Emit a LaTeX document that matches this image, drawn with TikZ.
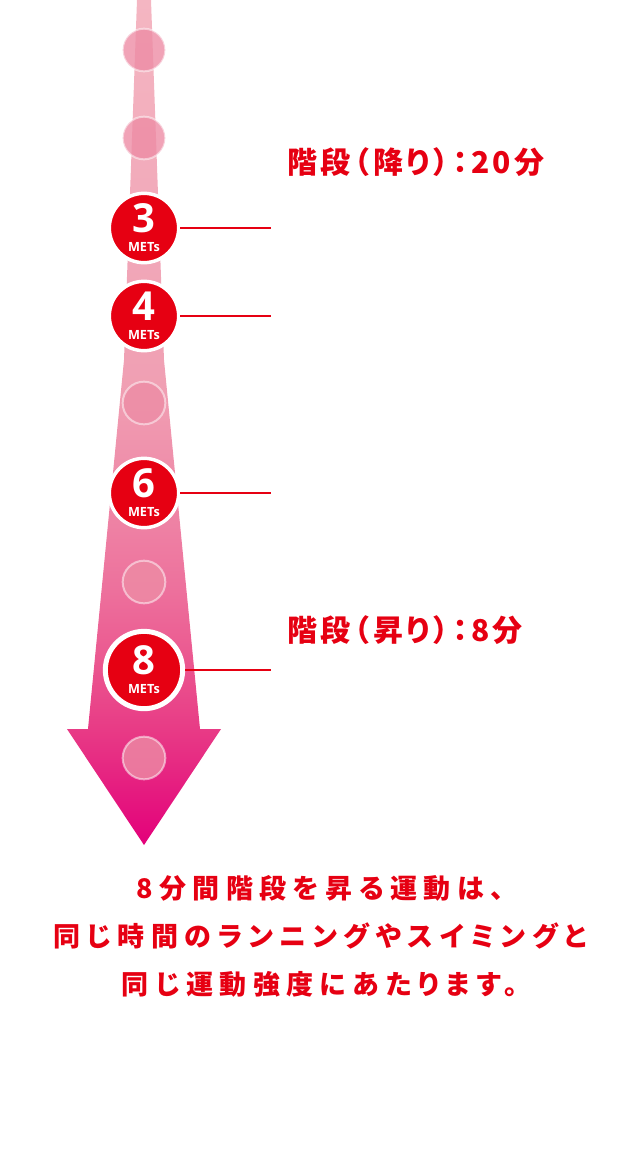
\documentclass[tikz,border=0pt]{standalone}
\usepackage{fontspec}
\setmainfont{Open Sans}
\newfontfamily\jpfont[RawFeature=+palt,LetterSpace=24]{Noto Sans CJK JP}
\newfontfamily\jplabelfont[RawFeature=+palt,LetterSpace=12]{Noto Sans CJK JP}
\definecolor{metsred}{RGB}{230,0,18}
\definecolor{dotpink}{RGB}{237,140,165}
\definecolor{arrowA}{HTML}{F4B6C2}
\definecolor{arrowB}{HTML}{F09FB3}
\definecolor{arrowC}{HTML}{EF8AA8}
\definecolor{arrowD}{HTML}{ED709C}
\definecolor{arrowE}{HTML}{EB5890}
\definecolor{arrowF}{HTML}{E83C86}
\definecolor{arrowG}{HTML}{E3007A}
\pgfdeclareverticalshading{metsarrow}{100bp}{color(0bp)=(arrowG); color(25bp)=(arrowG); color(32bp)=(arrowF); color(36bp)=(arrowE); color(40bp)=(arrowD); color(46bp)=(arrowC); color(52bp)=(arrowB); color(75bp)=(arrowA); color(100bp)=(arrowA)}
\tikzset{
  metsdot/.style={circle,fill=metsred,draw=white,line width=2.6pt,minimum size=52pt,inner sep=0pt},
  softdot/.style={circle,fill=dotpink,fill opacity=0.8,draw=white,draw opacity=0.5,line width=1.5pt,minimum size=32pt,inner sep=0pt},
  metsnum/.style={text=white,font=\bfseries\fontsize{30}{30}\selectfont,inner sep=0pt,yshift=7.5pt},
  metsunit/.style={text=white,font=\bfseries\fontsize{9.5}{9.5}\selectfont,inner sep=0pt,yshift=-14pt},
  metsline/.style={draw=metsred,line width=1.1pt},
  stairlabel/.style={text=metsred,font=\jplabelfont\bfseries\fontsize{22.5}{22.5}\selectfont,inner sep=0pt,anchor=west},
}
\begin{document}
\begin{tikzpicture}[x=0.75pt,y=0.75pt,yscale=-1,xscale=1]
\useasboundingbox (0,0) rectangle (640,1154);

%Shape: Arrow
\shade [shading=metsarrow]  (137,0) -- (151,0) -- (164,360) -- (200,729) -- (221,729) -- (144,845) -- (67,729) -- (88,729) -- (124,360) -- cycle ;

%Shape: Circle (small steps)
\node [softdot] (s1) at (144,50) {};
\node [softdot] (s2) at (144,138) {};
\node [softdot] (s5) at (144,403) {};
\node [softdot] (s7) at (144,582) {};
\node [softdot] (s9) at (144,758) {};

%Shape: Circle (METs)
\node [metsdot] (m3) at (144,228) {};
\node [metsdot] (m4) at (144,316) {};
\node [metsdot] (m6) at (144,493) {};
\node [metsdot,minimum size=58pt,line width=3.75pt] (m8) at (144,670) {};

%Text (METs values)
\node [metsnum] at (m3.center) {3};
\node [metsunit] at (m3.center) {METs};
\node [metsnum] at (m4.center) {4};
\node [metsunit] at (m4.center) {METs};
\node [metsnum] at (m6.center) {6};
\node [metsunit] at (m6.center) {METs};
\node [metsnum] at (m8.center) {8};
\node [metsunit] at (m8.center) {METs};

%Straight Lines
\coordinate (e3) at (271,228);
\coordinate (e4) at (271,316);
\coordinate (e6) at (271,493);
\coordinate (e8) at (271,670);
\draw [metsline] (m3.east) -- (e3) ;
\draw [metsline] (m4.east) -- (e4) ;
\draw [metsline] (m6.east) -- (e6) ;
\draw [metsline] (m8.east) -- (e8) ;

%Text (stairs)
\node [stairlabel] (down) at (287,162) {階段（降り）：20分};
\node [stairlabel] (up) at (287,630) {階段（昇り）：8分};

%Text (note)
\node [text=metsred,font=\jpfont\bfseries\fontsize{20.25}{36}\selectfont,align=center,inner sep=0pt] (note) at (320,936) {8分間階段を昇る運動は、\\同じ時間のランニングやスイミングと\\同じ運動強度にあたります。};

\end{tikzpicture}
\end{document}
